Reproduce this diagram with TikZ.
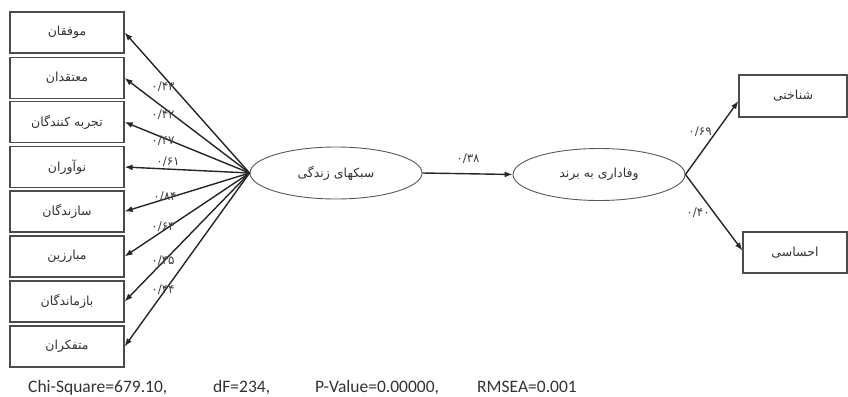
\documentclass[tikz,border=0pt]{standalone}
\usepackage{fontspec}
\setmainfont{Carlito}
\newfontfamily\fa[Script=Arabic]{DejaVu Sans}
\TeXXeTstate=1
\usetikzlibrary{arrows.meta,shapes.geometric}
\begin{document}
\begin{tikzpicture}[x=1pt,y=-1pt,
  lbox/.style={draw=black!70, line width=1.2pt, minimum width=114pt, minimum height=41pt, inner sep=0pt, font=\fa\fontsize{12.5}{14}\selectfont, text=black!80},
  rbox/.style={draw=black!70, line width=1.2pt, minimum height=41pt, inner sep=0pt, font=\fa\fontsize{12.5}{14}\selectfont, text=black!80},
  lat/.style={ellipse, draw=black!65, line width=0.9pt, minimum width=172pt, minimum height=52pt, inner sep=0pt, font=\fa\fontsize{12.5}{14}\selectfont, text=black!80},
  conn/.style={draw=black!85, line width=1.4pt, -{Latex[length=8pt,width=6pt]}},
  coef/.style={font=\fa\fontsize{12}{13}\selectfont, text=black!75, inner sep=0pt},
  stat/.style={font=\fontsize{17.5}{20}\selectfont, text=black!80, anchor=base west, inner sep=0pt}]
\useasboundingbox (0,0) rectangle (848,396);
\fill[white] (0,0) rectangle (848,396);
% left indicator boxes
\node[lbox] (m1) at (67,32.5) {\beginR موفقان\endR};
\node[lbox] (m2) at (67,78) {\beginR معتقدان\endR};
\node[lbox] (m3) at (67,122) {\beginR تجربه کنندگان\endR};
\node[lbox] (m4) at (67,167) {\beginR نوآوران\endR};
\node[lbox] (m5) at (67,211.5) {\beginR سازندگان\endR};
\node[lbox] (m6) at (67,256.5) {\beginR مبارزین\endR};
\node[lbox] (m7) at (67,301.5) {\beginR بازماندگان\endR};
\node[lbox] (m8) at (67,346.5) {\beginR متفکران\endR};
% latent variables
\node[lat] (ls) at (336,173) {\beginR سبکهای زندگی\endR};
\node[lat] (bl) at (599,174.5) {\beginR وفاداری به برند\endR};
% right indicator boxes
\node[rbox, minimum width=108pt, minimum height=42pt] (r1) at (793,96) {\beginR شناختی\endR};
\node[rbox, minimum width=104pt] (r2) at (795,252.5) {\beginR احساسی\endR};
% connectors
\foreach \i in {1,...,8} \draw[conn] (ls.west) -- (m\i.east);
\draw[conn] (ls.east) -- (bl.west);
\draw[conn] (bl.east) -- ([yshift=-5pt]r1.west);
\draw[conn] (bl.east) -- ([yshift=2pt]r2.west);
% coefficients
\node[coef] (c1) at (163,87) {۰/۴۳};
\node[coef] (c2) at (163,115) {۰/۴۲};
\node[coef] (c3) at (163,141) {۰/۴۷};
\node[coef] (c4) at (168,162) {۰/۶۱};
\node[coef] (c5) at (165,197) {۰/۸۴};
\node[coef] (c6) at (163,227) {۰/۶۴};
\node[coef] (c7) at (163,261) {۰/۴۵};
\node[coef] (c8) at (163,290) {۰/۴۴};
\node[coef] (c9) at (468,159) {۰/۳۸};
\node[coef] (c10) at (700,132) {۰/۶۹};
\node[coef] (c11) at (698,213) {۰/۴۰};
% fit statistics
\node[stat] (s1) at (28,392) {Chi-Square=679.10,};
\node[stat] (s2) at (213,392) {dF=234,};
\node[stat] (s3) at (315,392) {P-Value=0.00000,};
\node[stat] (s4) at (477,392) {RMSEA=0.001};
\end{tikzpicture}
\end{document}
